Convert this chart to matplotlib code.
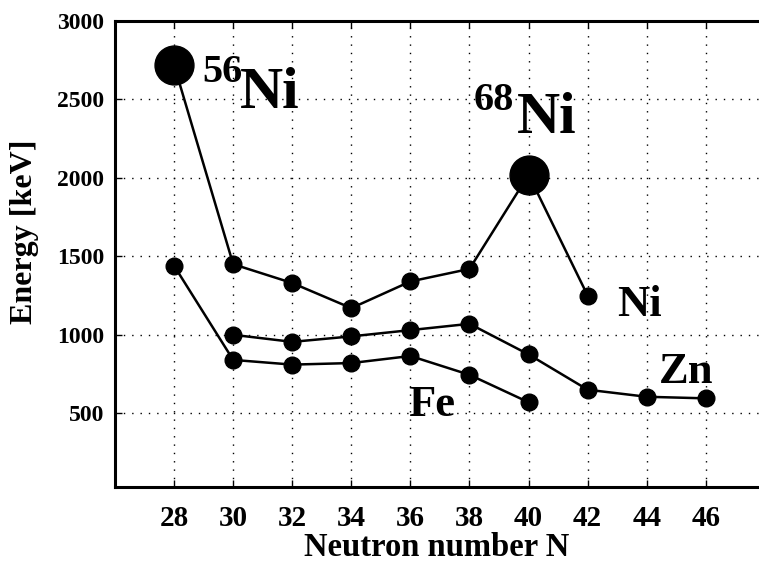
import matplotlib
matplotlib.use("Agg")
import matplotlib.pyplot as plt

# Data
n_ni = [28, 30, 32, 34, 36, 38, 40, 42]
e_ni = [2720, 1450, 1330, 1170, 1340, 1420, 2020, 1250]
n_zn = [30, 32, 34, 36, 38, 40, 42, 44, 46]
e_zn = [1000, 955, 990, 1030, 1070, 875, 650, 605, 595]
n_fe = [28, 30, 32, 34, 36, 38, 40]
e_fe = [1440, 840, 810, 820, 865, 745, 570]
big_n = [28, 40]
big_e = [2720, 2020]
xticks = [28, 30, 32, 34, 36, 38, 40, 42, 44, 46]
yticks = [500, 1000, 1500, 2000, 2500, 3000]

FONT = "Liberation Serif"
plt.rcParams["font.family"] = [FONT, "DejaVu Serif"]
plt.rcParams["font.weight"] = "bold"

W, H = 759, 563
fig = plt.figure(figsize=(W/100, H/100), dpi=100)
ax = fig.add_axes([115/W, 76/H, 1 - 115/W, (487-21)/H])

for n, e in [(n_ni, e_ni), (n_zn, e_zn), (n_fe, e_fe)]:
    ax.plot(n, e, color="black", lw=1.8, marker="o", ms=12, mfc="black", mec="black", zorder=3)
ax.plot(big_n, big_e, ls="none", marker="o", ms=28, color="black", zorder=4)

ax.set_xlim(26.0, 47.8)
ax.set_ylim(30, 3000)
ax.set_xticks(xticks)
ax.set_yticks(yticks)
ax.tick_params(axis="x", direction="in", length=5, width=1, labelsize=21, pad=13, top=True)
ax.tick_params(axis="y", direction="in", length=5, width=1, labelsize=17, pad=8)
for lab in ax.get_xticklabels() + ax.get_yticklabels():
    lab.set_fontweight("bold")
ax.grid(True, ls=(0, (1, 5)), color="black", lw=1.0)
for s in ["left", "bottom", "top"]:
    ax.spines[s].set_linewidth(2.2)
ax.spines["right"].set_visible(False)

ax.set_xlabel("Neutron number N", fontsize=23.5, fontweight="bold", labelpad=0)
ax.set_ylabel("Energy [keV]", fontsize=23, fontweight="bold")
ax.yaxis.set_label_coords(-0.118, 0.548)

# pixel -> data helpers for label placement
def px2x(px):
    return 26.0 + (px - 115) * (47.8 - 26.0) / (W - 115)

def py2y(py):
    return 30 + (487 - py) * (3000 - 30) / (487 - 21)

ax.text(px2x(202), py2y(82), "56", fontsize=29, fontweight="bold", ha="left", va="baseline")
ax.text(px2x(240), py2y(108), "Ni", fontsize=43, fontweight="bold", ha="left", va="baseline")
ax.text(px2x(474), py2y(110), "68", fontsize=29, fontweight="bold", ha="left", va="baseline")
ax.text(px2x(517), py2y(133), "Ni", fontsize=43, fontweight="bold", ha="left", va="baseline")
ax.text(px2x(617), py2y(316), "Ni", fontsize=32, fontweight="bold", ha="left", va="baseline")
ax.text(px2x(408), py2y(416), "Fe", fontsize=32, fontweight="bold", ha="left", va="baseline")
ax.text(px2x(659), py2y(383), "Zn", fontsize=32, fontweight="bold", ha="left", va="baseline")

fig.savefig("out.png", dpi=100)
